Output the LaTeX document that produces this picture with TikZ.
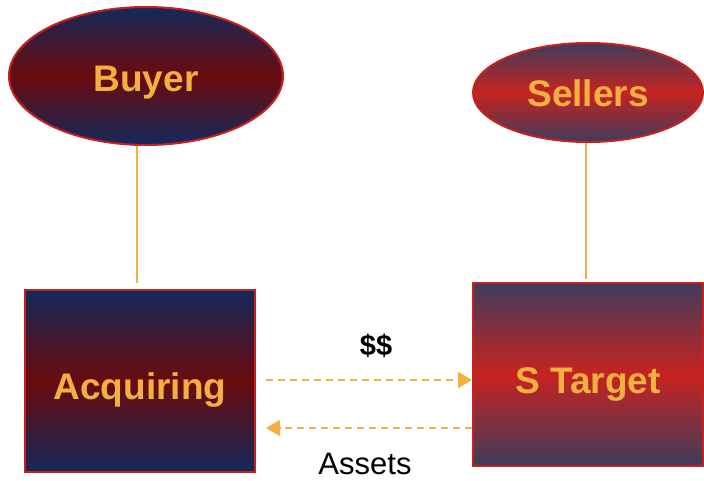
\documentclass[tikz,border=0pt]{standalone}
\usepackage{fontspec}
\setmainfont{Liberation Sans}
\usetikzlibrary{shapes.geometric,arrows.meta}

\definecolor{navy}{HTML}{14295B}
\definecolor{deepred}{HTML}{6A0B0E}
\definecolor{slate}{HTML}{3F3C5C}
\definecolor{brightred}{HTML}{C62320}
\definecolor{edge}{HTML}{C8201F}
\definecolor{gold}{HTML}{F2B040}

\tikzset{
  party/.style={draw=edge, line width=2pt, text=gold,
    font=\fontsize{37}{40}\selectfont\bfseries, inner sep=0pt, text depth=0pt},
  darkfill/.style={top color=navy, bottom color=navy, middle color=deepred},
  redfill/.style={top color=slate, bottom color=slate, middle color=brightred},
  oval/.style={party, ellipse},
  entity/.style={party, rectangle},
  link/.style={draw=gold, line width=2pt},
  flow/.style={draw=gold, line width=2pt, dash pattern=on 7pt off 5pt,
    -{Triangle[length=14pt,width=16pt,color=gold,fill=gold]}},
  caption/.style={font=\fontsize{31}{34}\selectfont, text=black, inner sep=0pt}
}

\begin{document}
\begin{tikzpicture}[x=1pt,y=-1pt]
  \useasboundingbox (0,0) rectangle (704,480);

  % owners
  \node[oval, darkfill, text height=31.5pt, minimum width=274pt, minimum height=138pt] (buyer) at (146,76) {Buyer};
  \node[oval, redfill, text height=28.5pt, minimum width=230pt, minimum height=99pt] (sellers) at (588,92.5) {Sellers};

  % companies
  \node[entity, darkfill, text height=37.5pt, minimum width=230pt, minimum height=182pt] (acq) at (140,381) {Acquiring};
  \node[entity, redfill, text height=37.5pt, minimum width=230pt, minimum height=183pt] (tgt) at (588,374.5) {S Target};

  % ownership lines
  \draw[link] (buyer.south -| 137,0) -- ([xshift=-3pt,yshift=6pt]acq.north);
  \draw[link] (sellers.south -| 586,0) -- ([xshift=-2pt,yshift=3pt]tgt.north);

  % cash and asset flows
  \coordinate (payS) at ([xshift=10pt,yshift=1pt]acq.east);
  \coordinate (payE) at (payS -| tgt.west);
  \coordinate (astS) at ([yshift=-53.5pt]tgt.west);
  \coordinate (astE) at ([xshift=10pt]astS -| acq.east);
  \draw[flow] (payS) -- (payE);
  \draw[flow] (astS) -- (astE);

  \node[caption, font=\fontsize{29}{34}\selectfont\bfseries] (cash) at (376,346) {\$\$};
  \node[caption] (assets) at (365,464) {Assets};
\end{tikzpicture}
\end{document}
